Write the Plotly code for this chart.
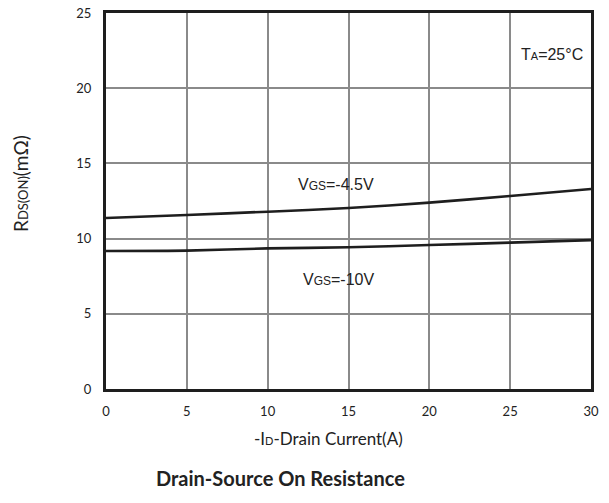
import plotly.graph_objects as go

# Data
current_a = [0, 5, 10, 15, 20, 25, 30]
rds_vgs45 = [11.37, 11.57, 11.79, 12.03, 12.39, 12.83, 13.3]
rds_vgs10 = [9.18, 9.2, 9.35, 9.42, 9.57, 9.73, 9.9]
x_ticks = [0, 5, 10, 15, 20, 25, 30]
y_ticks = [0, 5, 10, 15, 20, 25]

LINE = "#1e1e1e"
GRID = "#8a8a8a"
TICKFONT = dict(family="Lato, Open Sans, sans-serif", size=13, color="#222")
ARIAL = "Liberation Sans, Arial, sans-serif"

fig = go.Figure()
fig.add_trace(go.Scatter(x=current_a, y=rds_vgs45, mode="lines",
                         line=dict(color=LINE, width=2.6, shape="spline", smoothing=0.6),
                         showlegend=False, hoverinfo="skip"))
fig.add_trace(go.Scatter(x=current_a, y=rds_vgs10, mode="lines",
                         line=dict(color=LINE, width=2.6, shape="spline", smoothing=0.6),
                         showlegend=False, hoverinfo="skip"))

pl, pr, pt, pb = 106, 591, 13, 389
W, H = 609, 503

fig.update_layout(
    width=W, height=H,
    margin=dict(l=pl, r=W - pr, t=pt, b=H - pb),
    paper_bgcolor="white", plot_bgcolor="white",
    xaxis=dict(range=[0, 30], tickvals=x_ticks, showgrid=True, gridcolor=GRID,
               gridwidth=1.5, zeroline=False, showline=True, linecolor=LINE,
               linewidth=3, mirror=True, tickfont=TICKFONT, ticks="",
               ticklabelstandoff=8, automargin=False, fixedrange=True),
    yaxis=dict(range=[0, 25], tickvals=y_ticks, showgrid=True, gridcolor=GRID,
               gridwidth=1.5, zeroline=False, showline=True, linecolor=LINE,
               linewidth=3, mirror=True, tickfont=TICKFONT, ticks="",
               ticklabelstandoff=9, automargin=False, fixedrange=True),
)

def px(xp):
    return (xp - pl) / (pr - pl)
def py(yp):
    return (pb - yp) / (pb - pt)

fig.add_annotation(text="T<span style='font-size:11px'>A</span>=25°C",
                   x=px(585), y=py(54), xref="paper", yref="paper", showarrow=False,
                   xanchor="right", yanchor="middle",
                   font=dict(family=ARIAL, size=16, color="#222"))
fig.add_annotation(text="V<span style='font-size:12px'>GS</span>=-4.5V",
                   x=14.2, y=13.6, xref="x", yref="y", showarrow=False,
                   xanchor="center", yanchor="middle",
                   font=dict(family=ARIAL, size=16, color="#222"))
fig.add_annotation(text="V<span style='font-size:12px'>GS</span>=-10V",
                   x=14.4, y=7.25, xref="x", yref="y", showarrow=False,
                   xanchor="center", yanchor="middle",
                   font=dict(family=ARIAL, size=16, color="#222"))

fig.add_annotation(text="R<span style='font-size:13px'>DS(ON)</span>(mΩ)",
                   x=px(20), y=py(184), xref="paper", yref="paper", showarrow=False,
                   textangle=-90, xanchor="center", yanchor="middle",
                   font=dict(family="Lato, Open Sans, sans-serif", size=19, color="#222"))
fig.add_annotation(text="-I<span style='font-size:11px'>D</span>-Drain Current(A)",
                   x=px(328), y=py(439), xref="paper", yref="paper", showarrow=False,
                   xanchor="center", yanchor="middle",
                   font=dict(family="Lato, Open Sans, sans-serif", size=17, color="#222"))
fig.add_annotation(text="<b>Drain-Source On Resistance</b>",
                   x=px(280), y=py(478), xref="paper", yref="paper", showarrow=False,
                   xanchor="center", yanchor="middle",
                   font=dict(family="Lato, Open Sans, sans-serif", size=20, color="#222"))

fig.write_html("out.html")
